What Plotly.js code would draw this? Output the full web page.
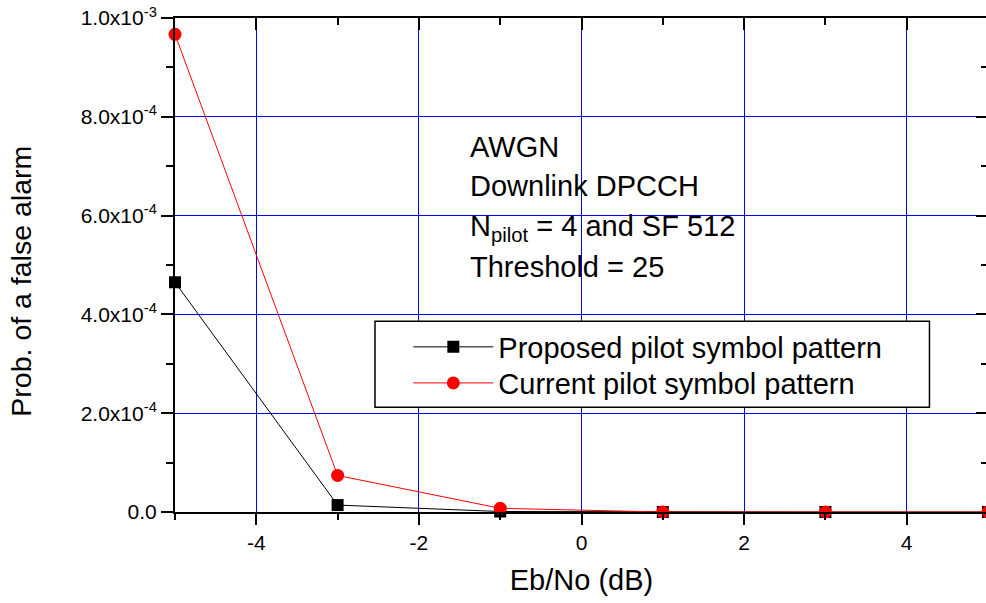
<!DOCTYPE html>
<html>
<head>
<meta charset="utf-8">
<script src="https://cdn.plot.ly/plotly-3.0.1.min.js"></script>
<style>
  html, body { margin: 0; padding: 0; overflow: hidden; background: #fff; }
  #chart { width: 989px; height: 603px; }
</style>
</head>
<body>
<div id="chart"></div>
<script>
// Eb/No operating points (dB)
const ebno = [-5, -3, -1, 1, 3, 5];

// False-alarm probability for each pilot pattern
const proposed = [4.65e-4, 1.4e-5, 1.0e-6, 0, 0, 0];
const current  = [9.67e-4, 7.4e-5, 7.5e-6, 0, 0, 0];

const seriesNames = ['Proposed pilot symbol pattern', 'Current pilot symbol pattern'];

// X tick positions and labels (plain hyphen minus)
const xTickVals = [-4, -2, 0, 2, 4];
const xTickText = ['-4', '-2', '0', '2', '4'];

// Y tick positions and their scientific-notation labels
const yTickVals = [0, 2e-4, 4e-4, 6e-4, 8e-4, 1e-3];
const yTickText = ['0.0', '2.0x10<sup>-4</sup>', '4.0x10<sup>-4</sup>', '6.0x10<sup>-4</sup>',
                   '8.0x10<sup>-4</sup>', '1.0x10<sup>-3</sup>'];

// Simulation settings printed inside the plot
const infoLines = ['AWGN', 'Downlink DPCCH', 'N<sub>pilot</sub> = 4 and SF 512', 'Threshold = 25'];
const infoY = [0.738, 0.659, 0.574, 0.496];

const FONT = 'Liberation Sans, Arial, sans-serif';

const traces = [
  {
    x: ebno, y: proposed, name: seriesNames[0], type: 'scatter', mode: 'lines+markers',
    line: { color: '#000000', width: 1 },
    marker: { symbol: 'square', size: 12, color: '#000000' },
    cliponaxis: false, legend: 'legend'
  },
  {
    x: ebno, y: current, name: seriesNames[1], type: 'scatter', mode: 'lines+markers',
    line: { color: '#ff0000', width: 1 },
    marker: { symbol: 'circle', size: 13, color: '#ff0000' },
    cliponaxis: false, legend: 'legend2'
  }
];

const annotations = infoLines.map((t, i) => ({
  text: t, xref: 'paper', yref: 'paper', x: 0.36, y: infoY[i],
  xanchor: 'left', yanchor: 'middle', showarrow: false,
  font: { family: FONT, size: 29, color: '#000' }
}));

// Vertical axis title
annotations.push({
  text: 'Prob. of a false alarm', xref: 'paper', yref: 'paper',
  x: -0.189, y: 0.467, xanchor: 'center', yanchor: 'middle',
  textangle: -90, showarrow: false,
  font: { family: FONT, size: 28.5, color: '#000' }
});

// Framed white panel behind the legend entries
const shapes = [{
  type: 'rect', xref: 'paper', yref: 'paper', layer: 'above',
  x0: 0.246, x1: 0.928, y0: 0.212, y1: 0.386,
  fillcolor: '#ffffff', line: { color: '#000000', width: 1.5 }
}];

// One legend per series so each row sits at its own height
const legendBase = {
  x: 0.287, xanchor: 'left', yanchor: 'middle',
  bgcolor: 'rgba(0,0,0,0)', borderwidth: 0,
  font: { family: FONT, size: 29, color: '#000' },
  itemwidth: 80
};

const layout = {
  width: 989, height: 603,
  margin: { l: 175, r: 1, t: 18, b: 91 },
  paper_bgcolor: '#ffffff', plot_bgcolor: '#ffffff',
  font: { family: FONT, color: '#000' },
  showlegend: true,
  legend: Object.assign({}, legendBase, { y: 0.334 }),
  legend2: Object.assign({}, legendBase, { y: 0.261 }),
  xaxis: {
    range: [-5, 5], tickmode: 'array', tickvals: xTickVals, ticktext: xTickText,
    ticks: 'outside', ticklen: 11, tickwidth: 2, tickcolor: '#000',
    showline: true, linecolor: '#000', linewidth: 2, mirror: true,
    showgrid: true, gridcolor: '#0000ff', gridwidth: 1, zeroline: false,
    tickfont: { family: FONT, size: 21, color: '#000' },
    minor: { tickmode: 'linear', tick0: 0, dtick: 1, ticks: 'outside', ticklen: 6, tickwidth: 2, tickcolor: '#000', showgrid: false },
    title: { text: 'Eb/No (dB)', font: { family: FONT, size: 29, color: '#000' }, standoff: 16 }
  },
  yaxis: {
    range: [0, 1e-3], tickmode: 'array', tickvals: yTickVals, ticktext: yTickText,
    ticks: 'outside', ticklen: 12, tickwidth: 2, tickcolor: '#000',
    showline: true, linecolor: '#000', linewidth: 2, mirror: true,
    showgrid: true, gridcolor: '#0000ff', gridwidth: 1, zeroline: false,
    tickfont: { family: FONT, size: 21, color: '#000' },
    minor: { tickmode: 'linear', tick0: 0, dtick: 1e-4, ticks: 'outside', ticklen: 7, tickwidth: 2, tickcolor: '#000', showgrid: false }
  },
  // Inward-pointing ticks on the top and right frame edges
  xaxis2: {
    overlaying: 'x', side: 'top', range: [-5, 5], tickmode: 'linear', tick0: 0, dtick: 2,
    ticks: 'inside', ticklen: 12, tickwidth: 2, tickcolor: '#000',
    showticklabels: false, showgrid: false, showline: false, zeroline: false,
    minor: { tickmode: 'linear', tick0: 0, dtick: 1, ticks: 'inside', ticklen: 7, tickwidth: 2, tickcolor: '#000', showgrid: false }
  },
  yaxis2: {
    overlaying: 'y', side: 'right', range: [0, 1e-3], tickmode: 'linear', tick0: 0, dtick: 2e-4,
    ticks: 'inside', ticklen: 12, tickwidth: 2, tickcolor: '#000',
    showticklabels: false, showgrid: false, showline: false, zeroline: false,
    minor: { tickmode: 'linear', tick0: 0, dtick: 1e-4, ticks: 'inside', ticklen: 7, tickwidth: 2, tickcolor: '#000', showgrid: false }
  },
  shapes: shapes,
  annotations: annotations
};

// Invisible carrier so the top/right tick axes are drawn
traces.push({
  x: [ebno[0]], y: [0], xaxis: 'x2', yaxis: 'y2', type: 'scatter', mode: 'markers',
  marker: { opacity: 0 }, showlegend: false, hoverinfo: 'skip'
});

Plotly.newPlot('chart', traces, layout, { staticPlot: true, displayModeBar: false });
</script>
</body>
</html>
